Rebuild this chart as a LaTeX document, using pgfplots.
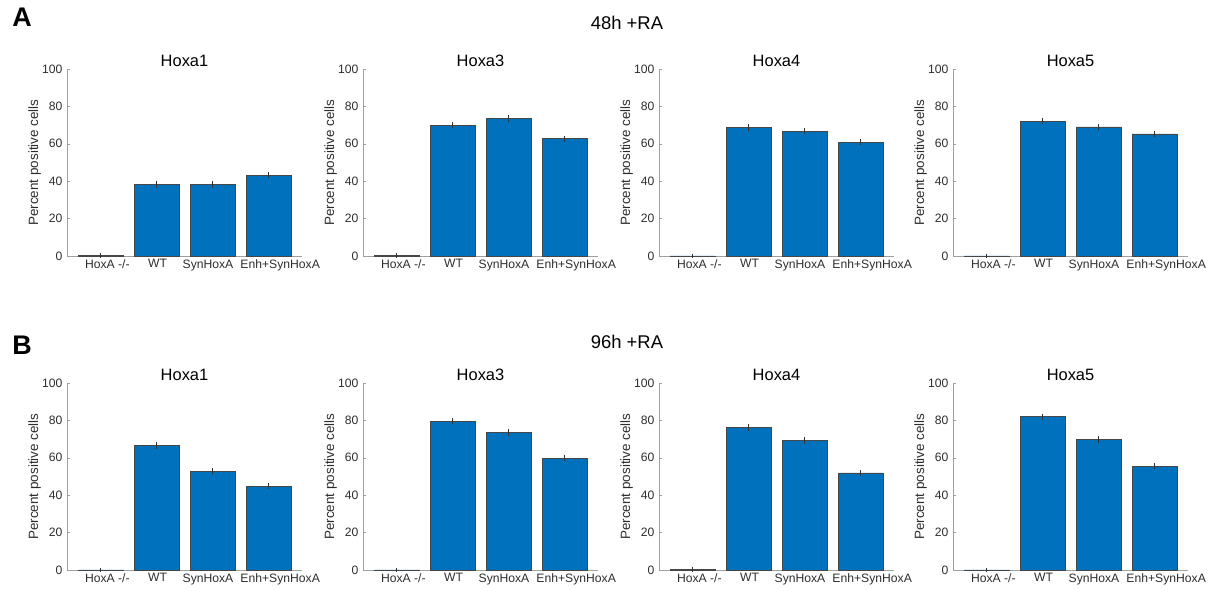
\documentclass[border=0pt]{standalone}
\usepackage{pgfplots}
\pgfplotsset{compat=1.18}
\usepackage{fontspec}
\setmainfont{Liberation Sans}
\definecolor{barblue}{RGB}{0,114,189}
\definecolor{axgray}{RGB}{160,160,160}
\definecolor{txtgray}{RGB}{45,45,45}
\definecolor{edgegray}{RGB}{70,70,70}
\pgfplotsset{hoxpanel/.style={
  width=235bp, height=187bp, scale only axis, anchor=south west,
  ybar, bar width=0.8,
  xmin=-0.6, xmax=3.6, ymin=0, ymax=100,
  xtick={0.12,1.02,1.92,3.21},
  xticklabels={HoxA -/-, WT, SynHoxA, Enh+SynHoxA},
  ytick={0,20,40,60,80,100},
  axis x line*=bottom, axis y line*=left,
  axis line style={axgray, line width=0.6bp, -},
  x axis line style={-}, y axis line style={-},
  tick align=inside, major tick length=3bp,
  xtick style={draw=none}, ytick style={axgray, line width=0.6bp},
  tick label style={font=\fontsize{12.2}{14}\selectfont, text=txtgray},
  yticklabel style={xshift=-1bp},
  /pgf/number format/assume math mode=true,
  ylabel={Percent positive cells},
  ylabel style={font=\fontsize{13.5}{15}\selectfont, text=txtgray,
    at={(axis description cs:-0.138,0.5)}, anchor=center},
  title style={font=\fontsize{16.5}{18}\selectfont, at={(0.5,1)}, anchor=south,
    inner sep=0pt, yshift=-4bp, text=black},
  clip=false,
}}
\pgfplotsset{hoxbar/.style={
  fill=barblue, draw=edgegray, line width=0.5bp,
  error bars/.cd, y dir=both, y explicit,
  error bar style={black!80, line width=0.5bp},
  error mark options={black!80, mark size=2bp, line width=0.5bp},
}}
\begin{document}
\begin{tikzpicture}
\useasboundingbox (0,0) rectangle (1219bp,-590bp);
\node[font=\bfseries\fontsize{27}{30}\selectfont, anchor=center] at (22bp,-17.5bp) {A};
\node[font=\fontsize{18.5}{20}\selectfont, anchor=center] at (627bp,-23bp) {48h +RA};
\node[font=\bfseries\fontsize{27}{30}\selectfont, anchor=center] at (22bp,-345bp) {B};
\node[font=\fontsize{18.5}{20}\selectfont, anchor=center] at (627bp,-342bp) {96h +RA};

% ---- Row A: 48h +RA ----
\begin{axis}[hoxpanel, at={(67bp,-256bp)}, title={Hoxa1}]
\addplot[hoxbar] coordinates {(0,0.3) +- (0,0.2) (1,38.3) +- (0,0.8) (2,38.2) +- (0,0.7) (3,43.2) +- (0,0.6)};
\end{axis}
\begin{axis}[hoxpanel, at={(363bp,-256bp)}, title={Hoxa3}]
\addplot[hoxbar] coordinates {(0,0.2) +- (0,0.2) (1,69.9) +- (0,0.6) (2,73.5) +- (0,0.6) (3,62.8) +- (0,0.5)};
\end{axis}
\begin{axis}[hoxpanel, at={(659bp,-256bp)}, title={Hoxa4}]
\addplot[hoxbar] coordinates {(0,0.1) +- (0,0.1) (1,68.8) +- (0,0.8) (2,66.7) +- (0,0.6) (3,60.8) +- (0,0.6)};
\end{axis}
\begin{axis}[hoxpanel, at={(953bp,-256bp)}, title={Hoxa5}]
\addplot[hoxbar] coordinates {(0,0.1) +- (0,0.1) (1,72.0) +- (0,0.6) (2,69.0) +- (0,0.7) (3,65.3) +- (0,0.6)};
\end{axis}

% ---- Row B: 96h +RA ----
\begin{axis}[hoxpanel, at={(67bp,-570bp)}, title={Hoxa1}]
\addplot[hoxbar] coordinates {(0,0.1) +- (0,0.1) (1,66.8) +- (0,0.8) (2,52.8) +- (0,0.5) (3,44.8) +- (0,0.5)};
\end{axis}
\begin{axis}[hoxpanel, at={(363bp,-570bp)}, title={Hoxa3}]
\addplot[hoxbar] coordinates {(0,0.1) +- (0,0.1) (1,79.6) +- (0,0.5) (2,73.4) +- (0,0.8) (3,59.8) +- (0,0.6)};
\end{axis}
\begin{axis}[hoxpanel, at={(659bp,-570bp)}, title={Hoxa4}]
\addplot[hoxbar] coordinates {(0,0.2) +- (0,0.2) (1,76.2) +- (0,0.7) (2,69.3) +- (0,0.6) (3,52.0) +- (0,0.5)};
\end{axis}
\begin{axis}[hoxpanel, at={(953bp,-570bp)}, title={Hoxa5}]
\addplot[hoxbar] coordinates {(0,0.1) +- (0,0.1) (1,82.0) +- (0,0.5) (2,69.8) +- (0,0.6) (3,55.5) +- (0,0.5)};
\end{axis}
\end{tikzpicture}
\end{document}
